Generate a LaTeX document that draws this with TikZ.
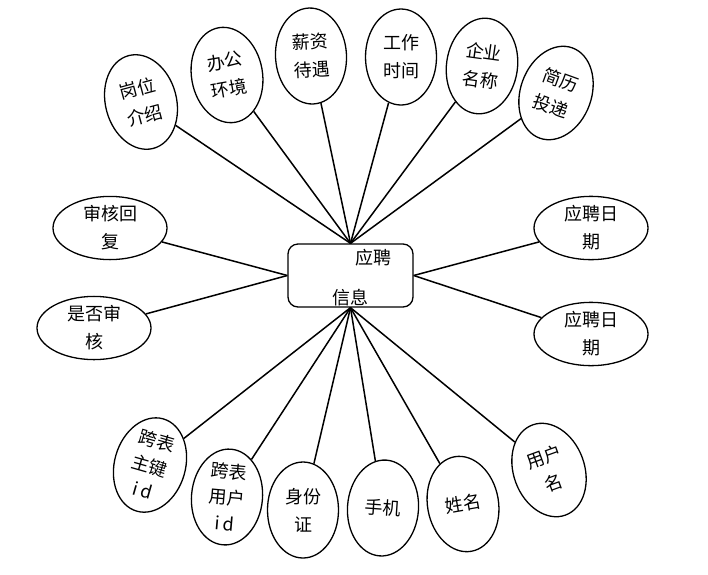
\documentclass[tikz,border=0pt]{standalone}
\usepackage{fontspec}
\newfontfamily\cjk{Noto Sans CJK SC}
\usetikzlibrary{shapes.geometric}
\begin{document}
\begin{tikzpicture}[x=1pt,y=-1pt,
  attr/.style={ellipse,draw,line width=1.3pt,inner sep=0pt,align=center,
    font=\cjk\fontsize{18}{28}\selectfont},
  tall/.style={attr,minimum width=71pt,minimum height=96pt},
  wide/.style={attr,minimum width=114pt,minimum height=62pt},
  link/.style={line width=1.5pt},
  entity/.style={draw,line width=1.3pt,rounded corners=10pt,minimum width=125pt,minimum height=63pt,inner sep=0pt},
  lbl/.style={inner sep=0pt,font=\cjk\fontsize{18}{28}\selectfont}]
\useasboundingbox (0,0) rectangle (708,574);
\node[entity] (box) at (350.5,275.5) {};
\node[lbl] (t1) at (373,258) {应聘};
\node[lbl] (t2) at (350,298) {信息};
% top
\node[tall,rotate=15] (a1) at (141,102) {岗位\\介绍};
\node[tall,rotate=10] (a2) at (227,75) {办公\\环境};
\node[tall,rotate=3] (a3) at (311,56) {薪资\\待遇};
\node[tall] (a4) at (401,57) {工作\\时间};
\node[tall,rotate=-8] (a5) at (482,66) {企业\\名称};
\node[tall,rotate=-20] (a6) at (556,93) {简历\\投递};
% sides
\node[wide] (b1) at (110,228) {审核回\\复};
\node[wide] (b2) at (94,328) {是否审\\核};
\node[wide] (b3) at (591,228) {应聘日\\期};
\node[wide] (b4) at (591,334) {应聘日\\期};
% bottom
\node[tall,rotate=-16,font=\cjk\fontsize{18}{26}\selectfont] (c1) at (150,465) {跨表\\主键\\i\,d};
\node[tall,rotate=-5,font=\cjk\fontsize{18}{26}\selectfont] (c2) at (227,497) {跨表\\用户\\i\,d};
\node[tall] (c3) at (303,510) {身份\\证};
\node[tall,rotate=-4] (c4) at (383,508) {手机};
\node[tall,rotate=10] (c5) at (463,504) {姓名};
\node[tall,rotate=20] (c6) at (549,470) {用户\\名};
% links
\foreach \n in {a1,a2,a3,a4,a5,a6} \draw[link] (\n) -- (box.north);
\foreach \n in {c1,c2,c3,c4,c5,c6} \draw[link] (\n) -- (box.south);
\foreach \n in {b1,b2} \draw[link] (\n) -- (box.west);
\foreach \n in {b3,b4} \draw[link] (\n) -- (box.east);
\end{tikzpicture}
\end{document}
